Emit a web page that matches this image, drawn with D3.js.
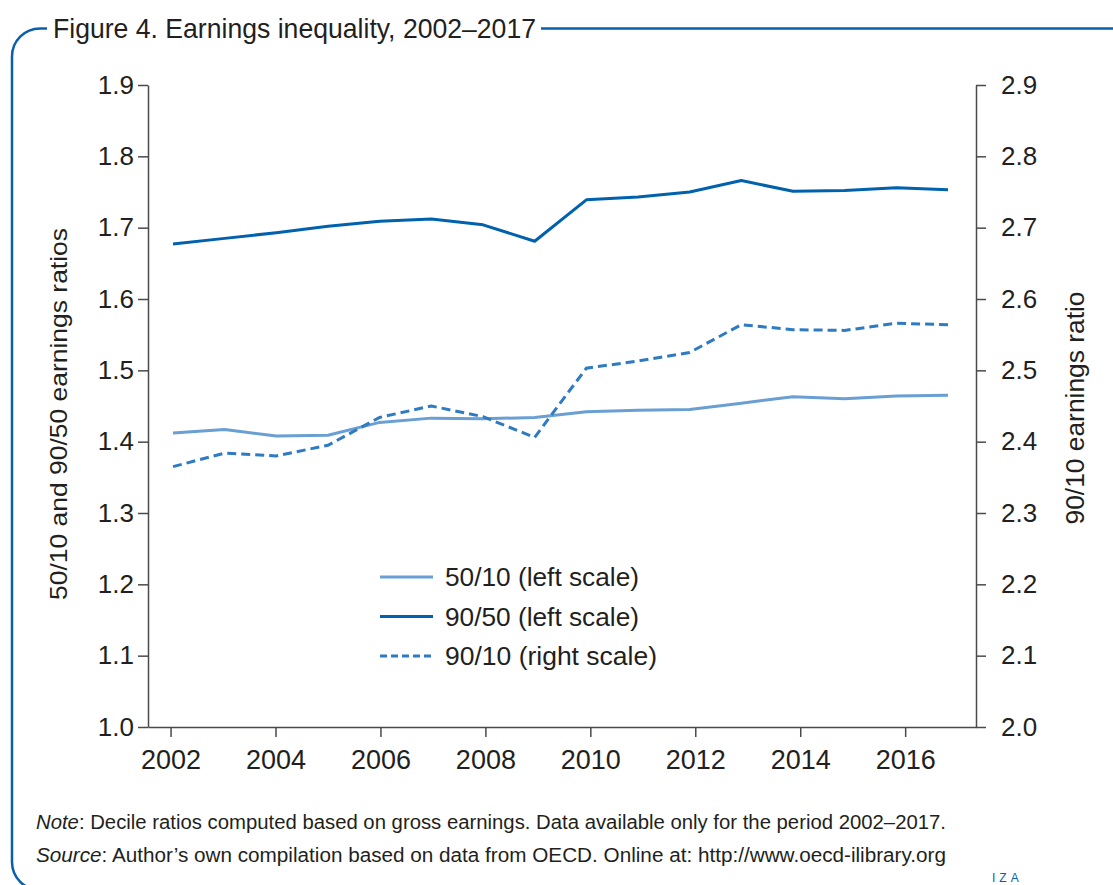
<!DOCTYPE html>
<html>
<head>
<meta charset="utf-8">
<script src="https://cdn.jsdelivr.net/npm/d3@7"></script>
<style>
  html, body { margin: 0; padding: 0; background: #fff; }
  svg { display: block; }
  text { font-family: "Liberation Sans", Arial, sans-serif; fill: #231f20; }
</style>
</head>
<body>
<svg id="chart" width="1113" height="885"></svg>
<script>
// ---- Data ----
const years = [2002, 2003, 2004, 2005, 2006, 2007, 2008, 2009, 2010, 2011, 2012, 2013, 2014, 2015, 2016, 2017];
const ratio5010 = [1.412, 1.417, 1.408, 1.409, 1.427, 1.433, 1.432, 1.434, 1.442, 1.444, 1.445, 1.454, 1.463, 1.460, 1.464, 1.465];
const ratio9050 = [1.677, 1.685, 1.693, 1.702, 1.709, 1.712, 1.704, 1.681, 1.739, 1.743, 1.750, 1.766, 1.751, 1.752, 1.756, 1.753];
const ratio9010 = [2.365, 2.384, 2.380, 2.395, 2.434, 2.450, 2.435, 2.406, 2.503, 2.513, 2.525, 2.564, 2.557, 2.556, 2.566, 2.564];
const xTickYears = [2002, 2004, 2006, 2008, 2010, 2012, 2014, 2016];
const leftTicks = [1.0, 1.1, 1.2, 1.3, 1.4, 1.5, 1.6, 1.7, 1.8, 1.9];
const rightTicks = [2.0, 2.1, 2.2, 2.3, 2.4, 2.5, 2.6, 2.7, 2.8, 2.9];
const seriesNames = ["50/10 (left scale)", "90/50 (left scale)", "90/10 (right scale)"];
const titleText = "Figure 4. Earnings inequality, 2002\u20132017";
const leftTitle = "50/10 and 90/50 earnings ratios";
const rightTitle = "90/10 earnings ratio";

const svg = d3.select("#chart");
const frameColor = "#0a5fad";
const axisColor = "#4a4a4a";
const colLight = "#6a9fd4";
const colDark = "#0061ad";
const colDash = "#2e7bc2";

// ---- Frame ----
svg.append("path")
  .attr("d", "M1113,28.5 L40,28.5 A28,28 0 0 0 12,56.5 L12,862 A28,28 0 0 0 40,890")
  .attr("fill", "none").attr("stroke", frameColor).attr("stroke-width", 2.5);
const titleG = svg.append("g");
titleG.append("rect").attr("x", 47).attr("y", 10).attr("width", 494).attr("height", 36).attr("fill", "#fff");
titleG.append("text").attr("x", 53).attr("y", 37.5)
  .attr("font-size", 28).attr("textLength", 483).attr("lengthAdjust", "spacingAndGlyphs")
  .text(titleText);

// ---- Scales ----
const plot = { left: 148, right: 976, top: 85, bottom: 727 };
const xAxisScale = d3.scaleLinear().domain([2001.57, 2017.35]).range([plot.left, plot.right]);
const xData = d3.scalePoint().domain(years).range([173, 948]);
const yL = d3.scaleLinear().domain([1.0, 1.9]).range([plot.bottom, plot.top]);
const yR = d3.scaleLinear().domain([2.0, 2.9]).range([plot.bottom, plot.top]);

// ---- Axes ----
function styleAxis(g) {
  g.select(".domain").attr("stroke", axisColor).attr("stroke-width", 1.5);
  g.selectAll(".tick line").attr("stroke", axisColor).attr("stroke-width", 1.5);
  g.selectAll(".tick text").attr("fill", "#231f20").attr("font-family", "Liberation Sans, Arial, sans-serif");
}
const gL = svg.append("g").attr("transform", `translate(${plot.left},0)`)
  .call(d3.axisLeft(yL).tickValues(leftTicks).tickFormat(d3.format(".1f")).tickSize(10).tickSizeOuter(0).tickPadding(4));
styleAxis(gL); gL.selectAll(".tick text").attr("font-size", 26);

const gR = svg.append("g").attr("transform", `translate(${plot.right},0)`)
  .call(d3.axisRight(yR).tickValues(rightTicks).tickFormat(d3.format(".1f")).tickSize(10).tickSizeOuter(0).tickPadding(15));
styleAxis(gR); gR.selectAll(".tick text").attr("font-size", 26);

const gX = svg.append("g").attr("transform", `translate(0,${plot.bottom})`)
  .call(d3.axisBottom(xAxisScale).tickValues(xTickYears).tickFormat(d3.format("d")).tickSize(10).tickSizeOuter(0).tickPadding(13));
styleAxis(gX); gX.selectAll(".tick text").attr("font-size", 27);

// ---- Axis titles ----
svg.append("text").attr("transform", "translate(67,414) rotate(-90)")
  .attr("text-anchor", "middle").attr("font-size", 24)
  .attr("textLength", 372).attr("lengthAdjust", "spacingAndGlyphs")
  .text(leftTitle);
svg.append("text").attr("transform", "translate(1084,408) rotate(-90)")
  .attr("text-anchor", "middle").attr("font-size", 25)
  .attr("textLength", 233).attr("lengthAdjust", "spacingAndGlyphs")
  .text(rightTitle);

// ---- Lines ----
const lineL = d3.line().x((d, i) => xData(years[i])).y(d => yL(d));
const lineR = d3.line().x((d, i) => xData(years[i])).y(d => yR(d));

svg.append("path").datum(ratio5010).attr("d", lineL)
  .attr("fill", "none").attr("stroke", colLight).attr("stroke-width", 3).attr("stroke-linejoin", "round");
svg.append("path").datum(ratio9050).attr("d", lineL)
  .attr("fill", "none").attr("stroke", colDark).attr("stroke-width", 3).attr("stroke-linejoin", "round");
svg.append("path").datum(ratio9010).attr("d", lineR)
  .attr("fill", "none").attr("stroke", colDash).attr("stroke-width", 3).attr("stroke-dasharray", "9,5");

// ---- Legend ----
const legendItems = [
  { name: seriesNames[0], color: colLight, dash: null, w: 194 },
  { name: seriesNames[1], color: colDark, dash: null, w: 194 },
  { name: seriesNames[2], color: colDash, dash: "7,4", w: 212 }
];
const lg = svg.append("g").attr("transform", "translate(380,577)");
legendItems.forEach((it, i) => {
  const g = lg.append("g").attr("transform", `translate(0,${i * 39.5})`);
  g.append("line").attr("x1", 0).attr("x2", 53).attr("y1", 0).attr("y2", 0)
    .attr("stroke", it.color).attr("stroke-width", 3).attr("stroke-dasharray", it.dash);
  g.append("text").attr("x", 65).attr("y", 9).attr("font-size", 25)
    .attr("textLength", it.w).attr("lengthAdjust", "spacingAndGlyphs").text(it.name);
});

// ---- Notes ----
const note = svg.append("text").attr("x", 36).attr("y", 829).attr("font-size", 20)
  .attr("textLength", 910).attr("lengthAdjust", "spacingAndGlyphs");
note.append("tspan").attr("font-style", "italic").text("Note");
note.append("tspan").text(": Decile ratios computed based on gross earnings. Data available only for the period 2002\u20132017.");
const src = svg.append("text").attr("x", 36).attr("y", 862).attr("font-size", 20)
  .attr("textLength", 910).attr("lengthAdjust", "spacingAndGlyphs");
src.append("tspan").attr("font-style", "italic").text("Source");
src.append("tspan").text(": Author\u2019s own compilation based on data from OECD. Online at: http://www.oecd-ilibrary.org");

svg.append("text").attr("x", 992).attr("y", 882).attr("font-size", 12)
  .attr("letter-spacing", 4)
  .style("fill", frameColor).text("IZA");
</script>
</body>
</html>
